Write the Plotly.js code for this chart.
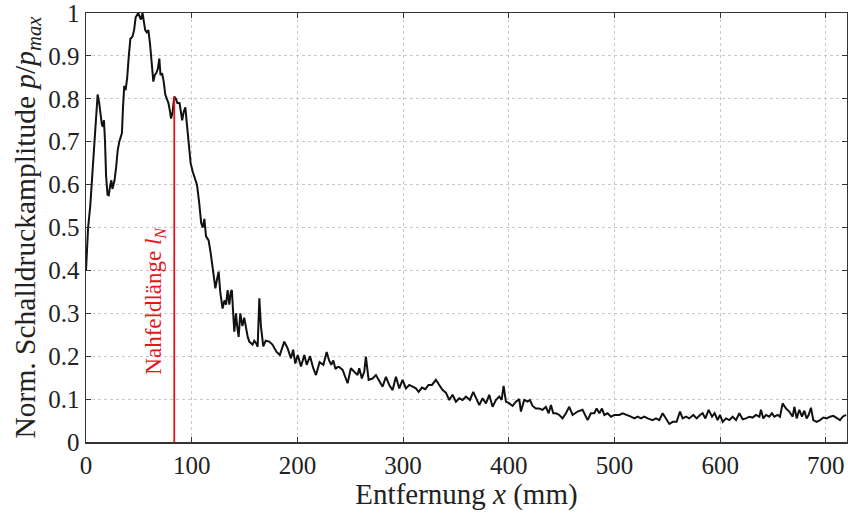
<!DOCTYPE html>
<html>
<head>
<meta charset="utf-8">
<script src="https://cdn.plot.ly/plotly-3.0.1.min.js"></script>
<style>html,body{margin:0;padding:0;background:#fff;}#chart{width:848px;height:514px;}</style>
</head>
<body>
<div id="chart"></div>
<script>
// Distance x (mm)
const distance = [
0,1,2,4,6,8,10,11,12.5,14,15,16,17,18,19,20.4,21.5,23,24,25,26,27,28.5,30,31.5,33,34,35,36.2,37.5,39,40.5,42,44,45.5,47,48,49.5,51,52,53.5,55,56,57.5,59,60.5,62,63.7,65,66.5,68,69.4,70.5,72,73.5,75,76.5,78,79.5,80.5,82,83.5,85,86.5,88.5,90,91,92.5,94,95.5,97.5,99,101,103,105,107,109,110.5,112,113.5,116,118,120,122.4,124,125.5,127,129.2,131,132.5,134,135.6,137,138,140.3,141.9,143,144.4,146,148,149.7,151.3,153,154.5,156,157.6,159.2,161,162.4,164,165.5,167.7,170,173.3,176.4,178,180.3,183.4,185.5,187.6,190.8,193.9,196,198,200.3,203.4,206.6,208.8,212,215,217.6,221,224.6,227.7,230,232,234,236,238,239.6,
242.8,247.5,250.6,253.8,256.9,258.5,261,263.3,264.8,267.4,271.1,274.3,277.4,280.6,283.8,286.9,290.1,293.2,296.4,299.5,302.7,305.8,309,312.1,314.7,317.8,321,324.1,327.3,331.1,334.2,337.4,340.5,343.7,346.8,350,353.1,356.3,359.5,363.2,366.4,369.5,372.1,375.2,378.4,381.5,384.7,387.8,391,393.2,395.1,397.3,400.5,403.6,406.8,409.9,411.5,414.6,417.8,420,422.5,425.7,428.8,432,435.1,437.7,439.9,442.1,444.6,447.8,450.9,454.1,457.2,460.4,465.1,469.8,474.6,477.7,
480.9,483.1,485.7,488.2,490.4,493.5,496.7,499.9,504.6,507.7,512.5,515.6,518.8,521.9,525.1,528.2,531.4,536.1,539.3,542.4,545.6,548.7,551.9,555.1,558.8,562,564.5,567.7,570.8,574.6,577.8,580.9,583.4,586,589.1,592.3,594.8,597.6,599.8,602.4,605.5,608.7,611.8,615,618.1,621.3,624.4,627.6,630.7,633.9,637.1,638.6,640.8,643.4,646.5,649,651.2,654.4,656.6,659.1,662.3,665.4,668.6,670.2,672.4,674.9,677.4,679.6,681.8,683.7,685.9,688.1,691.3,694.5,697.6,700.8,703.9,707.1,710.2,713.4,715.9,719.1
];
// Normalised sound pressure amplitude p/p_max
const amplitude = [
0.40,0.47,0.50,0.55,0.62,0.70,0.77,0.81,0.79,0.75,0.74,0.735,0.75,0.70,0.62,0.576,0.575,0.60,0.61,0.59,0.60,0.61,0.64,0.68,0.70,0.71,0.72,0.78,0.83,0.82,0.85,0.90,0.94,0.945,0.96,0.99,0.995,1.0,0.99,0.985,1.0,0.98,0.96,0.955,0.96,0.93,0.88,0.84,0.855,0.86,0.87,0.894,0.855,0.86,0.84,0.81,0.80,0.79,0.77,0.754,0.77,0.805,0.80,0.79,0.79,0.765,0.75,0.77,0.78,0.74,0.685,0.65,0.63,0.615,0.60,0.56,0.51,0.50,0.52,0.48,0.47,0.44,0.40,0.358,0.38,0.397,0.35,0.311,0.33,0.32,0.354,0.32,0.35,0.354,0.257,0.30,0.27,0.245,0.30,0.27,0.29,0.265,0.245,0.234,0.23,0.227,0.236,0.23,0.222,0.335,0.27,0.223,0.236,0.234,0.227,0.22,0.21,0.203,0.22,0.234,0.218,0.195,0.215,0.183,0.203,0.176,0.203,0.18,0.20,0.172,0.156,0.186,0.18,0.21,0.19,0.18,0.19,0.17,0.175,0.175,
0.168,0.137,0.172,0.164,0.156,0.172,0.148,0.164,0.199,0.145,0.148,0.156,0.141,0.129,0.152,0.133,0.121,0.152,0.125,0.145,0.125,0.133,0.129,0.125,0.117,0.127,0.123,0.133,0.133,0.145,0.133,0.121,0.115,0.098,0.110,0.094,0.102,0.098,0.106,0.098,0.117,0.102,0.086,0.102,0.090,0.110,0.082,0.098,0.106,0.098,0.131,0.094,0.090,0.084,0.094,0.100,0.071,0.098,0.094,0.098,0.084,0.078,0.078,0.075,0.082,0.067,0.086,0.067,0.067,0.063,0.055,0.067,0.082,0.063,0.071,0.075,0.051,0.067,
0.067,0.078,0.067,0.078,0.063,0.067,0.059,0.063,0.063,0.067,0.063,0.059,0.055,0.059,0.055,0.059,0.055,0.051,0.055,0.051,0.067,0.055,0.042,0.047,0.047,0.071,0.055,0.059,0.055,0.063,0.055,0.063,0.067,0.055,0.075,0.059,0.067,0.051,0.063,0.047,0.055,0.051,0.059,0.051,0.067,0.053,0.055,0.059,0.057,0.063,0.059,0.075,0.055,0.063,0.059,0.067,0.059,0.063,0.059,0.090,0.078,0.071,0.059,0.082,0.055,0.075,0.059,0.073,0.055,0.063,0.080,0.051,0.047,0.051,0.057,0.055,0.059,0.061,0.057,0.051,0.059,0.063
];
// Near-field length marker
const nearFieldX = 83.5;
const nearFieldTop = 0.805;
const nearFieldLabel = 'Nahfeldlänge <i>l</i><sub><i>N</i></sub>';
const xTickVals = [0,100,200,300,400,500,600,700];
const yTickVals = [0,0.1,0.2,0.3,0.4,0.5,0.6,0.7,0.8,0.9,1];

const font = 'Liberation Serif';

const trace = {
  x: distance, y: amplitude, type: 'scatter', mode: 'lines',
  line: {color: '#111', width: 2}, hoverinfo: 'skip'
};

const axisCommon = {
  showline: true, linecolor: '#333', linewidth: 1.5, mirror: 'ticks',
  ticks: 'inside', ticklen: 5, tickwidth: 1, tickcolor: '#333',
  showgrid: true, gridcolor: '#c8c8c8', griddash: 'dot', gridwidth: 1,
  zeroline: false, ticklabeloverflow: 'allow',
  tickfont: {family: font, size: 25, color: '#222'}
};

const layout = {
  width: 848, height: 514,
  margin: {l: 86, r: 1, t: 13, b: 72},
  paper_bgcolor: '#fff', plot_bgcolor: '#fff',
  font: {family: font},
  showlegend: false,
  xaxis: Object.assign({}, axisCommon, {
    range: [0, 720], tickvals: xTickVals, ticktext: xTickVals.map(String),
    title: {text: 'Entfernung <i>x</i> (mm)', font: {family: font, size: 29, color: '#222'}, standoff: 4}
  }),
  yaxis: Object.assign({}, axisCommon, {
    range: [0, 1], tickvals: yTickVals, ticktext: yTickVals.map(String),
    title: {text: 'Norm. Schalldruckamplitude <i>p</i>/<i>p</i><sub><i>max</i></sub>', font: {family: font, size: 29.5, color: '#222'}, standoff: 4}
  }),
  shapes: [{
    type: 'line', xref: 'x', yref: 'y',
    x0: nearFieldX, x1: nearFieldX, y0: 0, y1: nearFieldTop,
    line: {color: '#e8141c', width: 1.8}
  }],
  annotations: [{
    xref: 'x', yref: 'y', x: nearFieldX, y: 0.33,
    xanchor: 'right', yanchor: 'middle', xshift: -3,
    text: nearFieldLabel, textangle: -90, showarrow: false,
    font: {family: font, size: 23, color: '#e8141c'}
  }]
};

Plotly.newPlot('chart', [trace], layout, {staticPlot: true, displayModeBar: false});
</script>
</body>
</html>
